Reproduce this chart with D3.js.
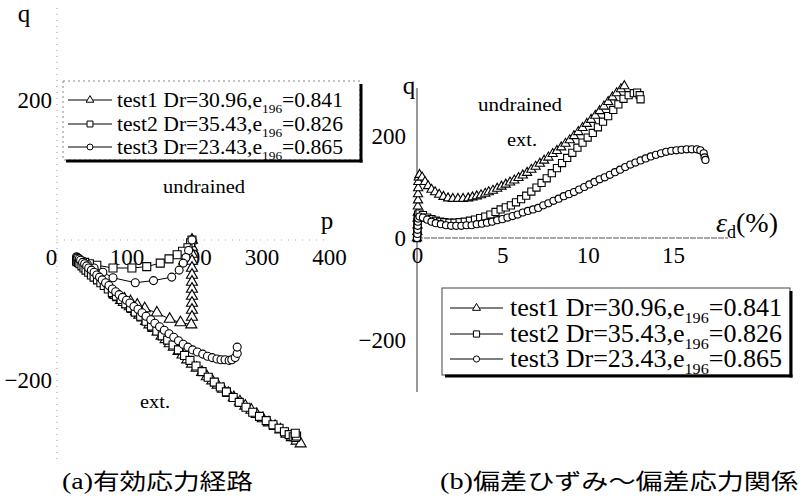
<!DOCTYPE html>
<html><head><meta charset="utf-8">
<script src="https://cdn.jsdelivr.net/npm/d3@7"></script>
<style>
body{margin:0;background:#fff}
svg{display:block}
text{font-family:"Liberation Serif","Times New Roman",serif;fill:#000}
.cjk{font-family:"Noto Sans CJK JP","Noto Sans CJK SC",sans-serif}
</style>
</head><body>
<svg id="c" width="807" height="498"></svg>
<script>
// ---------------- DATA ----------------
const seriesNames = ["test1", "test2", "test3"];
const drValues = ["30.96", "35.43", "23.43"];
const eValues = ["0.841", "0.826", "0.865"];
const markerTypes = ["triangle", "square", "circle"];

const pTicks = [0, 100, 200, 300, 400];
const qTicksLeft = [200, -200];
const epsTicks = [0, 5, 10, 15];
const qTicksRight = [200, 0, -200];

// (a) effective stress path: [p, q]
const test1Path = [[197,0],[197,-10],[197,-20],[197,-30],[197,-40],[197,-50],[197,-60],[197,-70],[197,-80],[197,-90],[197,-100],[197,-110],[196,-121],[180,-118],[164,-113],[145,-104],[127,-98],[116,-93],[106,-88],[97,-84],[90,-81],[85,-79],[82,-78],[84,-79],[88,-82],[92,-86],[96,-89],[101,-92],[105,-95],[110,-99],[114,-102],[119,-107],[124,-111],[129,-116],[134,-121],[140,-126],[146,-131],[152,-137],[158,-142],[164,-148],[170,-153],[177,-159],[183,-164],[190,-171],[197,-177],[204,-183],[212,-189],[219,-195],[227,-201],[235,-207],[243,-213],[251,-219],[259,-225],[268,-231],[276,-237],[285,-243],[293,-249],[302,-255],[311,-261],[320,-266],[328,-271],[337,-277],[345,-282],[352,-287],[358,-291]];
const test2Path = [[197,0],[195,-4],[191,-11],[183,-16],[175,-21],[163,-27],[150,-33],[130,-38],[108,-40],[80,-40],[56,-36],[45,-34],[38,-32],[33,-31],[29,-30],[27,-30],[26,-30],[27,-31],[29,-32],[31,-34],[34,-37],[37,-40],[40,-43],[44,-46],[48,-50],[52,-53],[57,-57],[62,-61],[67,-65],[73,-70],[79,-75],[85,-80],[92,-85],[99,-91],[106,-97],[113,-103],[121,-109],[129,-116],[137,-123],[145,-130],[153,-137],[161,-143],[169,-150],[177,-157],[186,-165],[194,-172],[203,-180],[212,-188],[221,-196],[230,-203],[239,-210],[248,-217],[258,-225],[267,-232],[277,-239],[287,-246],[297,-252],[307,-258],[317,-264],[326,-269],[334,-274],[341,-278],[347,-281],[350,-282],[352,-280],[350,-276]];
const test3Path = [[197,0],[192,-15],[188,-25],[184,-33],[178,-43],[167,-53],[140,-58],[113,-61],[80,-54],[65,-46],[52,-40],[42,-35],[35,-30],[30,-27],[27,-25],[26,-24],[27,-25],[28,-26],[30,-27],[32,-29],[35,-32],[38,-34],[41,-37],[44,-40],[48,-43],[52,-46],[56,-50],[60,-53],[64,-57],[69,-61],[74,-65],[79,-70],[84,-74],[89,-78],[94,-82],[100,-86],[105,-90],[111,-95],[117,-99],[123,-104],[129,-109],[136,-114],[142,-119],[149,-124],[156,-129],[163,-134],[170,-139],[177,-144],[184,-149],[191,-153],[198,-157],[205,-160],[213,-163],[220,-166],[227,-168],[234,-170],[240,-171],[246,-171],[252,-172],[256,-171],[261,-168],[264,-162],[264,-153]];

// (b) deviatoric strain (%) vs deviatoric stress: [eps, q]
const test1Curve = [[0,0],[0.02,12],[0.03,25],[0.04,38],[0.05,50],[0.05,62],[0.06,74],[0.06,86],[0.07,98],[0.08,110],[0.1,119],[0.15,124],[0.3,119],[0.47,110],[0.65,102],[0.85,95],[1.06,90],[1.3,85],[1.55,81],[1.82,78],[2.1,77],[2.4,77],[2.7,77],[3.0,78],[3.25,80],[3.5,82],[3.75,84],[4.0,87],[4.2,90],[4.45,93],[4.7,97],[4.95,101],[5.2,105],[5.45,109],[5.7,113],[5.95,118],[6.2,123],[6.45,128],[6.7,134],[6.95,140],[7.2,146],[7.45,152],[7.7,158],[7.95,165],[8.2,171],[8.45,178],[8.7,185],[8.95,192],[9.2,200],[9.45,208],[9.7,216],[9.95,224],[10.2,232],[10.45,240],[10.7,249],[10.95,258],[11.2,267],[11.45,276],[11.7,284],[11.95,292],[12.15,298]];
const test2Curve = [[0,0],[0.02,8],[0.02,16],[0.03,24],[0.03,32],[0.04,40],[0.06,46],[0.15,48],[0.35,45],[0.6,40],[0.85,37],[1.1,34],[1.35,32],[1.6,31],[1.9,30],[2.2,30],[2.5,31],[2.8,32],[3.1,34],[3.4,36],[3.7,39],[4.0,42],[4.3,46],[4.6,51],[4.9,56],[5.2,60],[5.5,64],[5.8,70],[6.1,76],[6.4,83],[6.7,91],[7.0,99],[7.3,108],[7.6,117],[7.9,127],[8.2,137],[8.5,147],[8.8,157],[9.1,167],[9.4,177],[9.7,187],[10.0,197],[10.3,206],[10.6,217],[10.9,228],[11.2,239],[11.5,251],[11.8,262],[12.1,273],[12.4,280],[12.7,284],[12.9,285],[13.05,280],[13.1,272]];
const test3Curve = [[0,0],[0.02,8],[0.03,16],[0.04,24],[0.05,32],[0.07,38],[0.15,42],[0.35,40],[0.6,36],[0.85,32],[1.1,29],[1.4,27],[1.7,25],[2.0,24],[2.3,24],[2.6,24],[2.9,25],[3.2,25],[3.5,27],[3.8,28],[4.1,30],[4.4,32],[4.7,35],[5.0,37],[5.3,40],[5.6,43],[5.9,46],[6.2,50],[6.5,53],[6.8,56],[7.1,59],[7.4,64],[7.7,68],[8.0,73],[8.3,77],[8.6,82],[8.9,86],[9.2,90],[9.5,95],[9.8,100],[10.1,105],[10.4,110],[10.7,115],[11.0,119],[11.3,124],[11.6,129],[11.9,134],[12.2,139],[12.5,144],[12.8,148],[13.1,152],[13.4,156],[13.7,160],[14.0,163],[14.3,166],[14.6,169],[14.9,171],[15.2,172],[15.5,173],[15.8,174],[16.1,174],[16.4,174],[16.6,172],[16.8,166],[16.85,158],[16.9,153]];

// ---------------- DRAW ----------------
const svg = d3.select("#c");
svg.append("rect").attr("width",807).attr("height",498).attr("fill","#fff");

const xL = d3.scaleLinear().domain([0,400]).range([59,329]);
const yL = d3.scaleLinear().domain([-200,200]).range([380,100]);
const xR = d3.scaleLinear().domain([0,15]).range([417,673]);
const yR = d3.scaleLinear().domain([-200,200]).range([340,136]);

function symFor(type, scale) {
  const sz = {triangle: 46, square: 64, circle: 50}[type] * scale;
  const st = {triangle: d3.symbolTriangle, square: d3.symbolSquare, circle: d3.symbolCircle}[type];
  return d3.symbol().type(st).size(sz)();
}

function drawSeries(g, data, xs, ys, type, scale) {
  g.append("path").datum(data)
    .attr("d", d3.line().x(d => xs(d[0])).y(d => ys(d[1])))
    .attr("fill","none").attr("stroke","#000").attr("stroke-width",1);
  g.selectAll(null).data(data).enter().append("path")
    .attr("transform", d => `translate(${xs(d[0])},${ys(d[1])})`)
    .attr("d", symFor(type, scale))
    .attr("fill","#fff").attr("stroke","#000").attr("stroke-width",1.1);
}

function label(g, x, y, txt, fs, len, anchor) {
  const t = g.append("text").attr("x",x).attr("y",y).style("font-size",fs+"px").text(txt);
  if (anchor) t.attr("text-anchor", anchor);
  if (len) t.attr("textLength", len).attr("lengthAdjust","spacingAndGlyphs");
  return t;
}

// ===== Panel (a) =====
const gA = svg.append("g");
gA.append("line").attr("x1",xL(0)-2).attr("x2",xL(0)-2).attr("y1",8).attr("y2",462)
  .attr("stroke","#999").attr("stroke-width",1).attr("stroke-dasharray","1,5");
gA.append("line").attr("x1",xL(0)-2).attr("x2",xL(400)).attr("y1",yL(0)).attr("y2",yL(0))
  .attr("stroke","#aaa").attr("stroke-width",1).attr("stroke-dasharray","1,6");

const axXL = gA.append("g").attr("transform",`translate(0,${yL(0)})`)
  .call(d3.axisBottom(xL).tickValues(pTicks).tickSize(0).tickPadding(9).tickFormat(d3.format("d")));
axXL.select(".domain").remove();
axXL.selectAll("text").style("font-size","23px").style("font-family","Liberation Serif")
  .attr("dx", d => d === 0 ? -8 : 0);
const axYL = gA.append("g").attr("transform",`translate(${xL(0)-5},0)`)
  .call(d3.axisLeft(yL).tickValues(qTicksLeft).tickSize(0).tickPadding(2).tickFormat(d3.format("d")));
axYL.select(".domain").remove();
axYL.selectAll("text").style("font-size","23px").style("font-family","Liberation Serif");

label(gA, 24, 22, "q", 25, null, "middle");
label(gA, 327, 229, "p", 25, null, "middle");
label(gA, 163, 193, "undrained", 18, 82);
label(gA, 140, 408, "ext.", 18, 30);

const pathsA = [test1Path, test2Path, test3Path];
pathsA.forEach((d,i) => drawSeries(gA, d, xL, yL, markerTypes[i], i===0 ? 1.15 : 1.0));

function drawLegend(g, x, y, w, h, rowY, lineX0, lineX1, textX, textLen, fs, mscale, dottedTL) {
  g.append("rect").attr("x",x).attr("y",y).attr("width",w).attr("height",h)
    .attr("fill","#fff").attr("stroke", dottedTL ? "#888" : "#444").attr("stroke-width",1)
    .attr("stroke-dasharray", dottedTL ? "2,3" : null);
  g.append("line").attr("x1",x+w+1).attr("x2",x+w+1).attr("y1",y+3).attr("y2",y+h+2.5)
    .attr("stroke","#000").attr("stroke-width",3);
  g.append("line").attr("x1",x+3).attr("x2",x+w+2.5).attr("y1",y+h+1).attr("y2",y+h+1)
    .attr("stroke","#000").attr("stroke-width",3);
  seriesNames.forEach((nm,i) => {
    const yy = rowY[i];
    g.append("line").attr("x1",lineX0).attr("x2",lineX1).attr("y1",yy).attr("y2",yy)
      .attr("stroke","#000").attr("stroke-width",1);
    g.append("path").attr("transform",`translate(${(lineX0+lineX1)/2},${yy})`)
      .attr("d", symFor(markerTypes[i], mscale)).attr("fill","#fff").attr("stroke","#000");
    const t = g.append("text").attr("x",textX).attr("y",yy+fs*0.33).style("font-size",fs+"px")
      .attr("textLength",textLen).attr("lengthAdjust","spacingAndGlyphs");
    t.append("tspan").text(nm + " Dr=" + drValues[i] + ",e");
    t.append("tspan").attr("dy",fs*0.28).style("font-size",(fs*0.62)+"px").text("196");
    t.append("tspan").attr("dy",-fs*0.28).text("=" + eValues[i]);
  });
}
drawLegend(gA, 63, 81, 297, 79, [100,124,147], 68, 112, 117, 226, 21, 0.55, true);

const capA = gA.append("text").attr("x",62).attr("y",489).style("font-size","23px")
  .attr("textLength",191).attr("lengthAdjust","spacingAndGlyphs");
capA.append("tspan").text("(a)");
capA.append("tspan").attr("class","cjk").style("font-size","22px").text("有効応力経路");

// ===== Panel (b) =====
const gB = svg.append("g");
gB.append("line").attr("x1",xR(0)).attr("x2",xR(0)).attr("y1",88).attr("y2",392)
  .attr("stroke","#333").attr("stroke-width",1);
gB.append("line").attr("x1",xR(0)).attr("x2",728).attr("y1",yR(0)).attr("y2",yR(0))
  .attr("stroke","#555").attr("stroke-width",1).attr("stroke-dasharray","6,1");

const axXR = gB.append("g").attr("transform",`translate(0,${yR(0)})`)
  .call(d3.axisBottom(xR).tickValues(epsTicks).tickSize(0).tickPadding(9).tickFormat(d3.format("d")));
axXR.select(".domain").remove();
axXR.selectAll("text").style("font-size","23px").style("font-family","Liberation Serif");
const axYR = gB.append("g").attr("transform",`translate(${xR(0)},0)`)
  .call(d3.axisLeft(yR).tickValues(qTicksRight).tickSize(0).tickPadding(11).tickFormat(d3.format("d")));
axYR.select(".domain").remove();
axYR.selectAll("text").style("font-size","23px").style("font-family","Liberation Serif");

label(gB, 409, 94, "q", 25, null, "middle");
const epsLab = gB.append("text").attr("x",716).attr("y",232).style("font-size","28px");
epsLab.append("tspan").style("font-style","italic").text("ε");
epsLab.append("tspan").attr("dy",6).style("font-size","18px").text("d");
epsLab.append("tspan").attr("dy",-6).text("(%)");
label(gB, 478, 111, "undrained", 19, 84);
label(gB, 507, 146, "ext.", 19, 30);

const curvesB = [test1Curve, test2Curve, test3Curve];
curvesB.forEach((d,i) => drawSeries(gB, d, xR, yR, markerTypes[i], 0.8));

drawLegend(gB, 442, 288, 348, 87, [308,334,359], 450, 503, 510, 272, 25, 0.6, false);

const capB = gB.append("text").attr("x",440).attr("y",489).style("font-size","23px")
  .attr("textLength",358).attr("lengthAdjust","spacingAndGlyphs");
capB.append("tspan").text("(b)");
capB.append("tspan").attr("class","cjk").style("font-size","22px").text("偏差ひずみ～偏差応力関係");
</script>
</body></html>
